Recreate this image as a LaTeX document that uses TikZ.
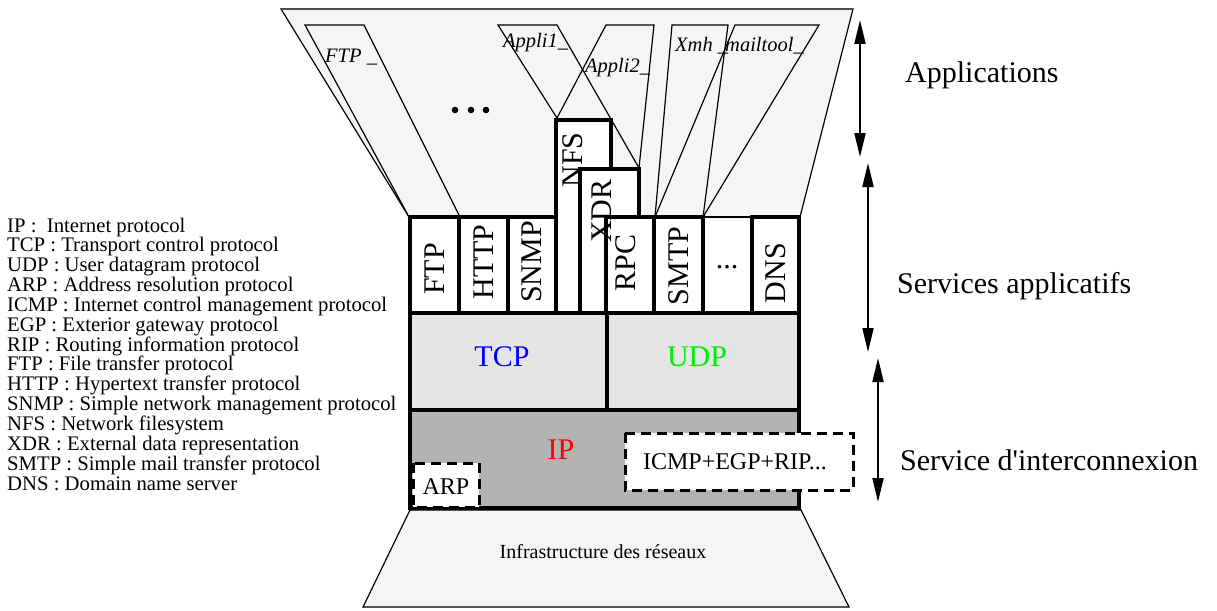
\documentclass[tikz,border=0pt]{standalone}
\usepackage{fontspec}
\setmainfont{Liberation Serif}
\usetikzlibrary{arrows.meta}
\definecolor{bgl}{HTML}{F5F5F5}
\definecolor{tcpg}{HTML}{E5E5E5}
\definecolor{ipg}{HTML}{B3B3B3}
\definecolor{tcpblue}{HTML}{0000FF}
\definecolor{udpgreen}{HTML}{00EE00}
\definecolor{ipred}{HTML}{FF0000}
\begin{document}
\begin{tikzpicture}[x=1pt,y=-1pt,
  thinln/.style={draw=black,line width=1.2pt,line join=miter},
  svcbox/.style={draw=black,line width=4pt,fill=white,line join=miter},
  layerbox/.style={draw=black,line width=4pt,line join=miter},
  dshbox/.style={draw=black,dash pattern=on 10pt off 6pt,line width=3pt,fill=white},
  svctxt/.style={inner sep=0pt,rotate=90,font=\fontsize{30}{30}\selectfont},
  apptxt/.style={inner sep=0pt,anchor=base west,font=\fontsize{20.5}{20.5}\selectfont\itshape},
  sidetxt/.style={inner sep=0pt,anchor=base west,font=\fontsize{30}{30}\selectfont},
  legtxt/.style={inner sep=0pt,anchor=base west,font=\fontsize{20.7}{20.7}\selectfont},
  dblarrow/.style={line width=2pt,{Triangle[length=24pt,width=11pt]}-{Triangle[length=24pt,width=11pt]}}
]
\useasboundingbox (0,0) rectangle (1217,610);

% Applications trapezoid
\path[thinln,fill=bgl] (281,9) -- (853,9) -- (800,217) -- (409,217) -- cycle;
\draw[line width=1.6pt,draw=black!70] (281,9) -- (853,9);
% application shapes
\path[thinln,fill=bgl] (409,217) -- (305,25) -- (364,25) -- (460,217);
\path[thinln] (557,118) -- (498,25) -- (557,25) -- (639,168);
\path[thinln] (557,118) -- (606,25) -- (654,25) -- (639,168);
\path[thinln] (655,217) -- (672,25) -- (728,25) -- (703,217);
\path[thinln] (655,217) -- (735,25) -- (819,25) -- (703,217);
\fill (455,110) circle (3.3) (471,110) circle (3.3) (486,110) circle (3.3);

\node[apptxt] (aftp) at (325,63) {FTP \_};
\node[apptxt] (aap1) at (503,48) {Appli1\_};
\node[apptxt] (aap2) at (585,72) {Appli2\_};
\node[apptxt] (axmh) at (675,52) {Xmh \_};
\node[apptxt] (amail) at (725,52) {mailtool\_};

% Infrastructure
\path[thinln,fill=bgl] (410,510) -- (801,510) -- (849,607) -- (363,607) -- cycle;

% service boxes
\path[svcbox] (410,217) rectangle (459,313);
\path[svcbox] (459,217) rectangle (508,313);
\path[svcbox] (508,217) rectangle (556,313);
\fill[white] (703,217) rectangle (752,313);
\draw[line width=1.2pt] (703,217) -- (752,217);
\path[svcbox] (752,217) rectangle (799,313);
\path[svcbox] (654,217) rectangle (703,313);
\path[svcbox] (556,120) rectangle (611,313);
\path[svcbox] (580,169) rectangle (639,313);
\path[svcbox] (606,217) rectangle (654,313);

% transport
\path[layerbox,fill=tcpg] (410,313) rectangle (607,410);
\path[layerbox,fill=tcpg] (607,313) rectangle (799,410);
\path[layerbox,fill=ipg] (410,410) rectangle (799,508);
\path[dshbox] (413,463) rectangle (479,507);
\path[dshbox] (625,433) rectangle (853,490);

% service texts
\node[svctxt] (tftp) at (434.5,269) {FTP};
\node[svctxt] (thttp) at (483.5,262) {HTTP};
\node[svctxt] (tsnmp) at (532,262) {SNMP};
\node[svctxt] (tnfs) at (573,160) {NFS};
\node[svctxt] (txdr) at (602,211) {XDR};
\node[svctxt] (trpc) at (626,263) {RPC};
\node[svctxt] (tsmtp) at (678.5,266) {SMTP};
\node[inner sep=0pt,anchor=base,font=\fontsize{30}{30}\selectfont] (tdots) at (727,268) {...};
\node[svctxt] (tdns) at (775.5,273) {DNS};

\node[inner sep=0pt,font=\fontsize{30}{30}\selectfont,text=tcpblue] (ttcp) at (502,357) {TCP};
\node[inner sep=0pt,font=\fontsize{30}{30}\selectfont,text=udpgreen] (tudp) at (697,357) {UDP};
\node[inner sep=0pt,font=\fontsize{30}{30}\selectfont,text=ipred] (tip) at (561,450) {IP};
\node[inner sep=0pt,font=\fontsize{24}{24}\selectfont] (tarp) at (446,487) {ARP};
\node[inner sep=0pt,font=\fontsize{24}{24}\selectfont] (ticmp) at (735,462) {ICMP+EGP+RIP...};
\node[inner sep=0pt,font=\fontsize{20}{20}\selectfont] (tinfra) at (603,552) {Infrastructure des réseaux};

% right arrows and labels
\coordinate (a1t) at (860,20);
\coordinate (a1b) at (860,157);
\coordinate (a2t) at (868,163);
\coordinate (a2b) at (868,352);
\coordinate (a3t) at (878,358);
\coordinate (a3b) at (878,502);
\draw[dblarrow] (a1t) -- (a1b);
\draw[dblarrow] (a2t) -- (a2b);
\draw[dblarrow] (a3t) -- (a3b);
\node[sidetxt] (lapp) at (905,82) {Applications};
\node[sidetxt] (lsvc) at (897,293) {Services applicatifs};
\node[sidetxt] (lint) at (900,470) {Service d\textquotesingle interconnexion};

% legend
\foreach \t [count=\i] in {IP :~ Internet protocol,
  TCP : Transport control protocol,
  UDP : User datagram protocol,
  ARP : Address resolution protocol,
  ICMP : Internet control management protocol,
  EGP : Exterior gateway protocol,
  RIP : Routing information protocol,
  FTP : File transfer protocol,
  HTTP : Hypertext transfer protocol,
  SNMP : Simple network management protocol,
  NFS : Network filesystem,
  XDR : External data representation,
  SMTP : Simple mail transfer protocol,
  DNS : Domain name server}
  \node[legtxt] (leg\i) at (7,{232+19.85*(\i-1)}) {\t};
\end{tikzpicture}
\end{document}
